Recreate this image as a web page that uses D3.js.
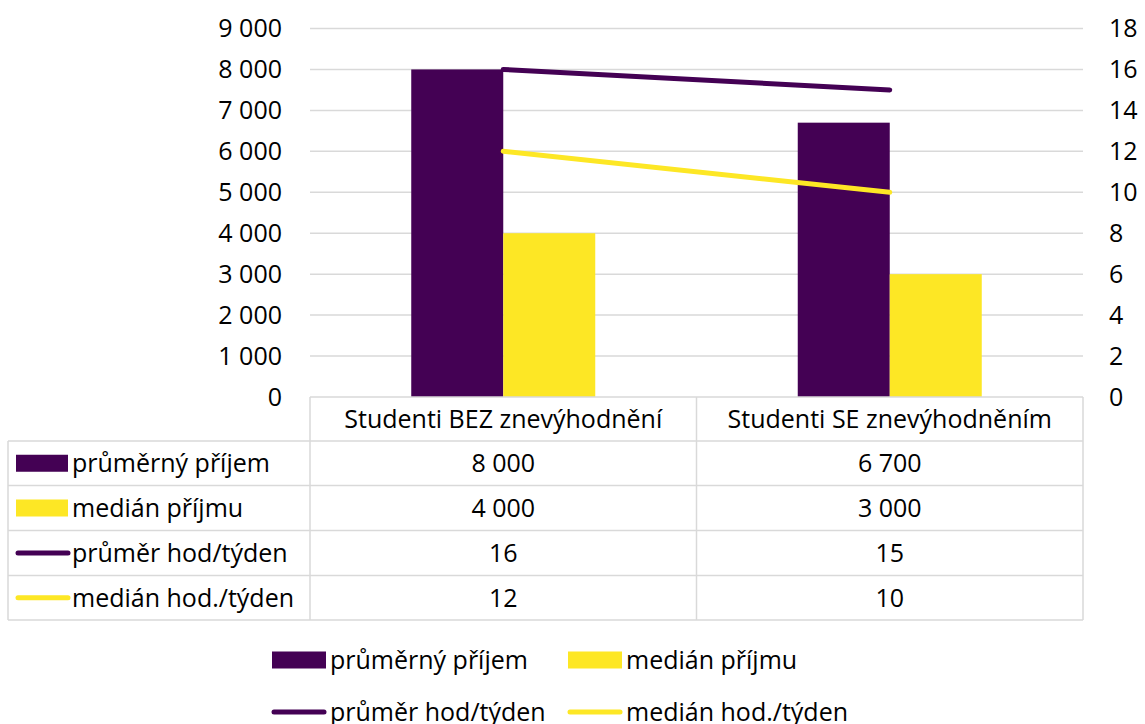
<!DOCTYPE html>
<html>
<head>
<meta charset="utf-8">
<script src="https://cdn.jsdelivr.net/npm/d3@7"></script>
<style>
body{margin:0;background:#fff;}
text{font-family:"Open Sans",sans-serif;fill:#000;}
</style>
</head>
<body>
<script>
// data
var categories=["Studenti BEZ znevýhodnění","Studenti SE znevýhodněním"];
var seriesNames=["průměrný příjem","medián příjmu","průměr hod/týden","medián hod./týden"];
var prumerPrijem=[8000,6700];
var medianPrijmu=[4000,3000];
var prumerHod=[16,15];
var medianHod=[12,10];
var leftTicks=[0,1000,2000,3000,4000,5000,6000,7000,8000,9000];
var rightTicks=[0,2,4,6,8,10,12,14,16,18];

var purple="#440154", yellow="#fde725", gridCol="#d9d9d9";
var W=1145,H=724,fs="25px";
var pLeft=310,pRight=1083,pTop=28.5,pBottom=397;
var fmt=function(v){return d3.format(",")(v).replace(/,/g," ");};

var svg=d3.select("body").append("svg")
	.attr("width",W)
	.attr("height",H);

var x=d3.scaleBand().domain(categories).range([pLeft,pRight]);
var y=d3.scaleLinear().domain([0,9000]).range([pBottom,pTop]);
var y2=d3.scaleLinear().domain([0,18]).range([pBottom,pTop]);

//gridlines
svg.append("g").selectAll("line")
	.data(leftTicks.slice(1))
	.enter().append("line")
	.attr("x1",pLeft).attr("x2",pRight)
	.attr("y1",function(d){return y(d);})
	.attr("y2",function(d){return y(d);})
	.style("stroke",gridCol).style("stroke-width",1.5);

//left axis
var yAxis=d3.axisLeft(y).tickValues(leftTicks).tickFormat(fmt).tickSize(0).tickPadding(0);
var ga=svg.append("g").attr("transform","translate(282,0)").call(yAxis);
ga.select(".domain").remove();
ga.selectAll("text").style("font-size",fs).style("font-family","'Open Sans'").attr("fill","#000");

var yAxis2=d3.axisRight(y2).tickValues(rightTicks).tickSize(0).tickPadding(0);
var gb=svg.append("g").attr("transform","translate(1109,0)").call(yAxis2);
gb.select(".domain").remove();
gb.selectAll("text").style("font-size",fs).style("font-family","'Open Sans'").attr("fill","#000");

//bars
var barData=[prumerPrijem,medianPrijmu];
var barCols=[purple,yellow];
barData.forEach(function(vals,s){
	svg.append("g").selectAll("rect")
		.data(vals)
		.enter().append("rect")
		.attr("x",function(d,i){return x(categories[i])+x.bandwidth()/2+(s===0?-92:0);})
		.attr("width",92)
		.attr("y",function(d){return y(d);})
		.attr("height",function(d){return pBottom-y(d);})
		.style("fill",barCols[s]);
});

//lines
var line=d3.line()
	.x(function(d,i){return x(categories[i])+x.bandwidth()/2;})
	.y(function(d){return y2(d);});
[[prumerHod,purple],[medianHod,yellow]].forEach(function(p){
	svg.append("path")
		.datum(p[0])
		.attr("d",line)
		.style("fill","none")
		.style("stroke",p[1])
		.style("stroke-width",5)
		.style("stroke-linecap","round");
});

//data table
var rowTops=[397,441,485.5,530.5,575.5,620];
var tableVals=[prumerPrijem,medianPrijmu,prumerHod,medianHod];
var tg=svg.append("g");
function hline(x1,x2,yy){tg.append("line").attr("x1",x1).attr("x2",x2).attr("y1",yy).attr("y2",yy).style("stroke",gridCol).style("stroke-width",1.5);}
function vline(xx,y1,y2_){tg.append("line").attr("x1",xx).attr("x2",xx).attr("y1",y1).attr("y2",y2_).style("stroke",gridCol).style("stroke-width",1.5);}
hline(pLeft,pRight,rowTops[0]);
for(var r=1;r<rowTops.length;r++){hline(8,pRight,rowTops[r]);}
vline(8,rowTops[1],rowTops[5]);
vline(pLeft,rowTops[0],rowTops[5]);
vline(x(categories[1]),rowTops[0],rowTops[5]);
vline(pRight,rowTops[0],rowTops[5]);

//header
tg.selectAll(".hdr").data(categories).enter().append("text")
	.attr("class","hdr")
	.attr("x",function(d){return x(d)+x.bandwidth()/2;})
	.attr("y",(rowTops[0]+rowTops[1])/2)
	.attr("dy","0.35em")
	.attr("text-anchor","middle")
	.style("font-size",fs)
	.text(function(d){return d;});

tableVals.forEach(function(vals,s){
	var cy=(rowTops[s+1]+rowTops[s+2])/2;
	tg.selectAll(".v"+s).data(vals).enter().append("text")
		.attr("x",function(d,i){return x(categories[i])+x.bandwidth()/2;})
		.attr("y",cy)
		.attr("dy","0.35em")
		.attr("text-anchor","middle")
		.style("font-size",fs)
		.text(function(d){return fmt(d);});
	if(s<2){
		tg.append("rect").attr("x",16).attr("y",cy-8.5).attr("width",52).attr("height",17).style("fill",barCols[s]);
	}else{
		tg.append("line").attr("x1",18).attr("x2",68).attr("y1",cy).attr("y2",cy)
			.style("stroke",s===2?purple:yellow).style("stroke-width",5).style("stroke-linecap","round");
	}
	tg.append("text").attr("x",72).attr("y",cy).attr("dy","0.35em")
		.style("font-size",fs)
		.text(seriesNames[s]);
});

//legend
var legPos=[[272,660],[568,660],[272,712],[568,712]];
var lg=svg.append("g");
seriesNames.forEach(function(n,s){
	var p=legPos[s];
	if(s<2){
		lg.append("rect").attr("x",p[0]).attr("y",p[1]-8.5).attr("width",54).attr("height",17).style("fill",barCols[s]);
	}else{
		lg.append("line").attr("x1",p[0]+2).attr("x2",p[0]+52).attr("y1",p[1]).attr("y2",p[1])
			.style("stroke",s===2?purple:yellow).style("stroke-width",5).style("stroke-linecap","round");
	}
	lg.append("text").attr("x",p[0]+58).attr("y",p[1]).attr("dy","0.35em")
		.style("font-size",fs).text(n);
});
</script>
</body>
</html>
